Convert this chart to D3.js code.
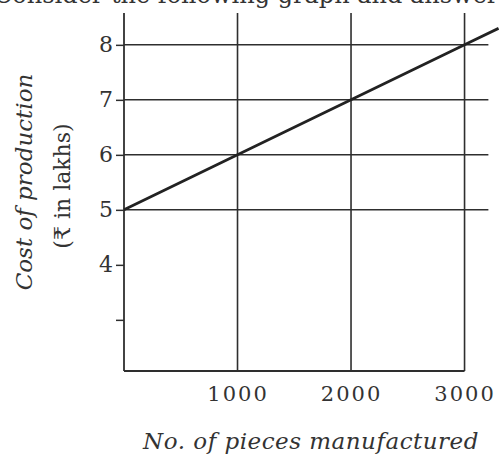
<!DOCTYPE html>
<html><head><meta charset="utf-8">
<script src="https://cdn.jsdelivr.net/npm/d3@7"></script>
<style>body{margin:0;background:#fff}svg{display:block}</style>
</head><body>
<svg id="c" width="499" height="457"></svg>
<script>
// Data
const pieces = [0, 1000, 2000, 3000, 3300];
const cost = [5, 6, 7, 8, 8.3];
const xTicks = [1000, 2000, 3000];
const yTicks = [3, 4, 5, 6, 7, 8];
const yLabels = ["", "4", "5", "6", "7", "8"];
const gridY = [5, 6, 7, 8];
const xTitle = "No. of pieces manufactured";
const yTitle1 = "Cost of production";
const yTitle2 = "(\u20B9 in lakhs)";
const header = "Consider the following graph and answer the";

const svg = d3.select("#c");
const ink = "#2e2e2e";
const x = d3.scaleLinear().domain([0, 3300]).range([124, 498.6]);
const y = d3.scaleLinear().domain([2.07, 8.55]).range([371, 14.6]);
const yTop = 8.58;

// header (cut off at top, as in the reference)
svg.append("text").attr("x", -6).attr("y", 3)
  .attr("font-family", "DejaVu Serif").attr("font-size", 24)
  .attr("fill", "#333").text(header);

// horizontal grid lines
svg.append("g").selectAll("line").data(gridY).join("line")
  .attr("x1", x(0)).attr("x2", x(3210))
  .attr("y1", d => y(d)).attr("y2", d => y(d))
  .attr("stroke", ink).attr("stroke-width", 1.5);

// vertical grid lines
svg.append("g").selectAll("line").data(xTicks).join("line")
  .attr("x1", d => x(d)).attr("x2", d => x(d))
  .attr("y1", y(2.07)).attr("y2", y(yTop))
  .attr("stroke", ink).attr("stroke-width", 1.6);

// y axis
const ya = svg.append("g").attr("transform", `translate(${x(0)},0)`)
  .call(d3.axisLeft(y).tickValues(yTicks).tickSize(8).tickPadding(3)
    .tickFormat((d, i) => yLabels[i]));
ya.select(".domain").remove();
ya.selectAll(".tick line").attr("stroke", ink).attr("stroke-width", 1.5);
ya.selectAll(".tick text").attr("font-family", "DejaVu Serif").attr("font-size", 22)
  .attr("fill", "#333");
svg.append("line").attr("x1", x(0)).attr("x2", x(0))
  .attr("y1", y(2.07)).attr("y2", y(yTop))
  .attr("stroke", ink).attr("stroke-width", 1.8);

// x axis
const xa = svg.append("g").attr("transform", `translate(0,${y(2.07)})`)
  .call(d3.axisBottom(x).tickValues(xTicks).tickSize(0).tickPadding(15)
    .tickFormat(d3.format("d")));
xa.select(".domain").remove();
xa.selectAll(".tick text").attr("font-family", "DejaVu Serif").attr("font-size", 21)
  .attr("letter-spacing", 2).attr("fill", "#333");
svg.append("line").attr("x1", x(0)).attr("x2", x(3000))
  .attr("y1", y(2.07)).attr("y2", y(2.07))
  .attr("stroke", ink).attr("stroke-width", 2);

// data line
svg.append("path").datum(pieces.map((p, i) => [p, cost[i]]))
  .attr("d", d3.line().x(d => x(d[0])).y(d => y(d[1])))
  .attr("fill", "none").attr("stroke", "#222").attr("stroke-width", 2.8);

// titles
svg.append("text").attr("x", 311).attr("y", 449).attr("text-anchor", "middle")
  .attr("font-family", "DejaVu Serif").attr("font-style", "italic").attr("font-size", 23)
  .attr("letter-spacing", 0.5).attr("fill", "#333").text(xTitle);
svg.append("text").attr("transform", "translate(32,182) rotate(-90)")
  .attr("text-anchor", "middle").attr("font-family", "DejaVu Serif")
  .attr("font-style", "italic").attr("font-size", 23).attr("fill", "#333").text(yTitle1);
svg.append("text").attr("transform", "translate(70,186) rotate(-90)")
  .attr("text-anchor", "middle").attr("font-family", "DejaVu Serif")
  .attr("font-size", 22).attr("fill", "#333").text(yTitle2);
</script>
</body></html>
